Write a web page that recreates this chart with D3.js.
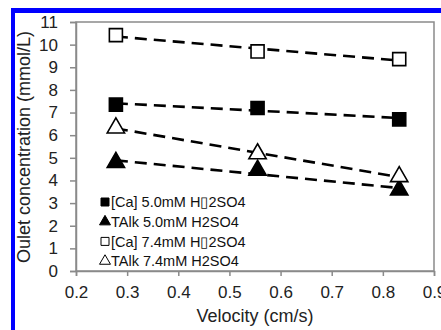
<!DOCTYPE html>
<html>
<head>
<meta charset="utf-8">
<script src="https://cdn.jsdelivr.net/npm/d3@7"></script>
<style>
  body { margin: 0; background: #fff; }
  svg { display: block; font-family: "Liberation Sans", Arial, sans-serif; }
</style>
</head>
<body>
<div class="canvas"></div>
<script>
// velocities (cm/s)
const velocity = [0.278, 0.555, 0.832];

// outlet concentrations (mmol/L)
const ca50 = [7.35, 7.2, 6.7];
const talk50 = [4.8, 4.45, 3.58];
const ca74 = [10.42, 9.7, 9.36];
const talk74 = [6.32, 5.18, 4.17];

const seriesNames = ['[Ca] 5.0mM H\u25AF2SO4', 'TAlk 5.0mM H2SO4', '[Ca] 7.4mM H\u25AF2SO4', 'TAlk 7.4mM H2SO4'];
const xTicks = [0.2, 0.3, 0.4, 0.5, 0.6, 0.7, 0.8, 0.9];
const yTicks = [0, 1, 2, 3, 4, 5, 6, 7, 8, 9, 10, 11];

const width = 441;
const height = 330;
const margin = {top: 22, right: 7, bottom: 59, left: 76};

const svg = d3.select('.canvas').append('svg')
  .attr('width', width)
  .attr('height', height);

// blue frame of the figure
svg.append('rect').attr('x', 11).attr('y', 8).attr('width', width - 11).attr('height', 5).attr('fill', '#0000ff');
svg.append('rect').attr('x', 11).attr('y', 8).attr('width', 4).attr('height', height - 8).attr('fill', '#0000ff');

const x = d3.scaleLinear().domain([0.2, 0.9]).range([margin.left, width - margin.right]);
const y = d3.scaleLinear().domain([0, 11]).range([height - margin.bottom, margin.top]);

// plot frame
svg.append('rect')
  .attr('x', x(0.2)).attr('y', y(11))
  .attr('width', x(0.9) - x(0.2)).attr('height', y(0) - y(11))
  .attr('fill', 'none').attr('stroke', '#8a8a8a').attr('stroke-width', 1.5);

const xAxis = svg.append('g')
  .attr('transform', `translate(0, ${y(0)})`)
  .call(d3.axisBottom(x).tickValues(xTicks).tickSize(5).tickPadding(10).tickFormat(d3.format('.1f')));
const yAxis = svg.append('g')
  .attr('transform', `translate(${x(0.2)}, 0)`)
  .call(d3.axisLeft(y).tickValues(yTicks).tickSize(6).tickPadding(12));

[xAxis, yAxis].forEach(ax => {
  ax.select('.domain').attr('stroke', '#8a8a8a').attr('stroke-width', 1.5);
  ax.selectAll('.tick line').attr('stroke', '#8a8a8a').attr('stroke-width', 1.5);
  ax.selectAll('.tick text').attr('fill', '#222').style('font-size', '17px');
});

// axis titles
svg.append('text')
  .attr('x', 255).attr('y', 322)
  .attr('text-anchor', 'middle')
  .attr('fill', '#222')
  .style('font-size', '18px')
  .text('Velocity (cm/s)');
svg.append('text')
  .attr('transform', 'translate(30, 147) rotate(-90)')
  .attr('text-anchor', 'middle')
  .attr('fill', '#222')
  .style('font-size', '18px')
  .text('Oulet concentration (mmol/L)');

const series = [
  {name: seriesNames[0], values: ca50, shape: d3.symbolSquare, filled: true},
  {name: seriesNames[1], values: talk50, shape: d3.symbolTriangle, filled: true},
  {name: seriesNames[2], values: ca74, shape: d3.symbolSquare, filled: false},
  {name: seriesNames[3], values: talk74, shape: d3.symbolTriangle, filled: false}
];

// dashed linear trendlines
function fit(xs, ys) {
  const mx = d3.mean(xs), my = d3.mean(ys);
  const b = d3.sum(xs, (v, i) => (v - mx) * (ys[i] - my)) / d3.sum(xs, v => (v - mx) * (v - mx));
  return v => my + b * (v - mx);
}

series.forEach(s => {
  const f = fit(velocity, s.values);
  const x0 = d3.min(velocity), x1 = d3.max(velocity);
  svg.append('line')
    .attr('x1', x(x0)).attr('y1', y(f(x0)))
    .attr('x2', x(x1)).attr('y2', y(f(x1)))
    .attr('stroke', '#000').attr('stroke-width', 2.6)
    .attr('stroke-dasharray', '12,7');
});

// markers
series.forEach(s => {
  const sym = d3.symbol().type(s.shape).size(s.shape === d3.symbolSquare ? 170 : 130);
  svg.append('g').selectAll('path')
    .data(s.values)
    .join('path')
    .attr('d', sym)
    .attr('transform', (d, i) => `translate(${x(velocity[i])}, ${y(d)})`)
    .attr('fill', s.filled ? '#000' : '#fff')
    .attr('stroke', '#000')
    .attr('stroke-width', 1.6);
});

// legend
const legend = svg.append('g').attr('transform', 'translate(105, 202)');
series.forEach((s, i) => {
  const row = legend.append('g').attr('transform', `translate(0, ${i * 19.7})`);
  row.append('path')
    .attr('d', d3.symbol().type(s.shape).size(s.shape === d3.symbolSquare ? 64 : 52))
    .attr('fill', s.filled ? '#000' : '#fff')
    .attr('stroke', '#000')
    .attr('stroke-width', 1);
  row.append('text')
    .attr('x', 6).attr('dy', '0.36em')
    .attr('fill', '#111')
    .style('font-size', '14.5px')
    .text(s.name);
});
</script>
</body>
</html>
